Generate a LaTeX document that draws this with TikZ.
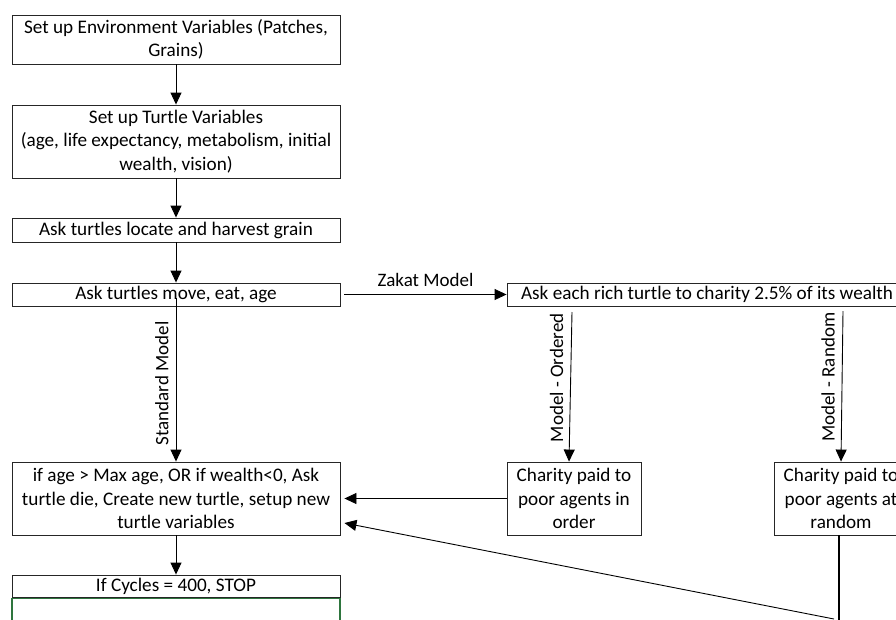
\documentclass[tikz,border=0pt]{standalone}
\usepackage{fontspec}
\setmainfont{Carlito}
\usetikzlibrary{arrows.meta}
\definecolor{boxgreen}{RGB}{46,117,62}
\tikzset{
  box/.style={draw=black!85, line width=0.9pt, align=center, inner sep=0pt,
    font=\fontsize{19.2}{23.3}\selectfont},
  arr/.style={draw=black, line width=0.9pt, -{Triangle[length=12pt,width=11pt]}},
  lbl/.style={font=\fontsize{19}{20}\selectfont, inner sep=0pt},
}
\begin{document}
\begin{tikzpicture}[x=1pt,y=-1pt]
\useasboundingbox (0,0) rectangle (896,619);
\clip (0,0) rectangle (896,619);
\node[box, minimum width=328pt, minimum height=49pt] (b1) at (176,39.5)
  {Set up Environment Variables (Patches,\\Grains)};
\node[box, minimum width=328pt, minimum height=73pt] (b2) at (176,141.5)
  {Set up Turtle Variables\\(age, life expectancy, metabolism, initial\\wealth, vision)};
\node[box, minimum width=328pt, minimum height=24pt] (b3) at (176,230)
  {Ask turtles locate and harvest grain};
\node[box, minimum width=328pt, minimum height=23pt] (b4) at (176,294.5)
  {Ask turtles move, eat, age};
\node[box, minimum width=400pt, minimum height=23pt] (rich) at (707,294.5)
  {Ask each rich turtle to charity 2.5\% of its wealth};
\node[box, minimum width=328pt, minimum height=73pt] (b5) at (176,498.5)
  {if age > Max age, OR if wealth<0, Ask\\turtle die, Create new turtle, setup new\\turtle variables};
\node[box, minimum width=328pt, minimum height=22pt] (b6) at (176,586)
  {If Cycles = 400, STOP};
\node[draw=boxgreen, line width=1.8pt, minimum width=328pt, minimum height=44pt, inner sep=0pt] (g) at (176,620.5) {};
\node[box, minimum width=134pt, minimum height=73pt] (ord) at (574,498.5)
  {Charity paid to\\poor agents in\\order};
\node[box, minimum width=134pt, minimum height=73pt] (rnd) at (841,498.5)
  {Charity paid to\\poor agents at\\random};
% connectors
\draw[arr] (b1.south) -- (b2.north);
\draw[arr] (b2.south) -- (b3.north);
\draw[arr] (b3.south) -- (b4.north);
\draw[arr] ([xshift=4pt]b4.east) -- node[lbl, above=7pt] {Zakat Model} (rich.west);
\draw[arr] ([yshift=8pt]b4.south) -- node[lbl, rotate=90, above=7pt, pos=0.52] {Standard Model} (b5.north);
\coordinate (o1) at (572,312);
\coordinate (r1) at (843,311);
\draw[arr] (o1) -- node[lbl, rotate=90, above=7pt, pos=0.44] {Model - Ordered} ([xshift=-5pt]ord.north);
\draw[arr] (r1) -- node[lbl, rotate=90, above=7pt, pos=0.44] {Model - Random} ([xshift=0pt]rnd.north);
\draw[arr] (ord.west) -- ([xshift=4pt]b5.east);
\draw[arr] (b5.south) -- (b6.north);
\coordinate (rb) at (839,640);
\draw[line width=2.6pt] ([xshift=-2pt]rnd.south) -- (rb);
\coordinate (sl) at (834,619);
\draw[arr] (sl) -- ([xshift=4pt,yshift=-24.5pt]b5.east);
\end{tikzpicture}
\end{document}
